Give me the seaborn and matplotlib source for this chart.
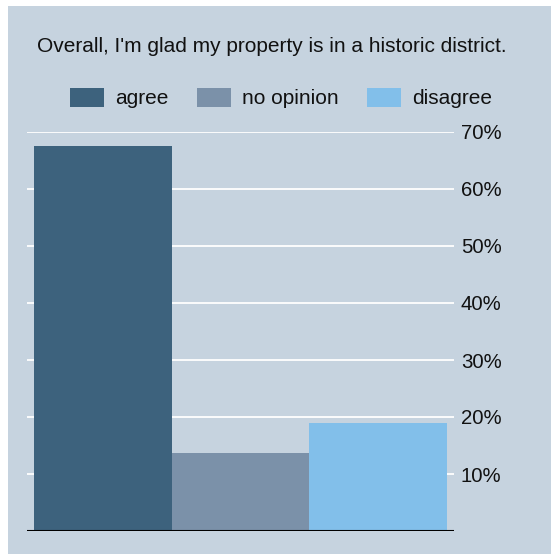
import matplotlib
matplotlib.use("Agg")
import matplotlib.pyplot as plt
from matplotlib.patches import Rectangle, Patch
import seaborn as sns
import pandas as pd

# Survey responses
categories = ["agree", "no opinion", "disagree"]
values = [67.6, 13.6, 19.0]
colors = ["#3d627d", "#7b91a9", "#82bfea"]
tick_values = [10, 20, 30, 40, 50, 60, 70]
tick_labels = ["10%", "20%", "30%", "40%", "50%", "60%", "70%"]
title = "Overall, I'm glad my property is in a historic district."

sns.set_theme(style="white")
plt.rcParams["font.family"] = ["Liberation Sans", "DejaVu Sans"]

bg = "#c6d3df"
FS = 15
W, H = 551, 554
fig = plt.figure(figsize=(W / 100, H / 100), dpi=100)
fig.patch.set_facecolor("white")
fig.patches.append(Rectangle((8 / W, 0), 1 - 8 / W, 1 - 6 / H,
                             transform=fig.transFigure, facecolor=bg,
                             edgecolor="none", zorder=-10))

ax = fig.add_axes([27 / W, (H - 531) / H, (454 - 27) / W, (531 - 132) / H])
ax.set_facecolor("none")

df = pd.DataFrame({"response": categories, "pct": values})
sns.barplot(data=df, x="response", y="pct", hue="response",
            palette=dict(zip(categories, colors)), width=1.0,
            dodge=False, legend=False, saturation=1, ax=ax, zorder=3)
for p in ax.patches:
    p.set_edgecolor("none")

ax.set_xlim(-0.55, 2.55)
ax.set_ylim(0, 70)
ax.set_xlabel("")
ax.set_ylabel("")
ax.set_xticks([])
ax.yaxis.tick_right()
ax.set_yticks(tick_values)
ax.set_yticklabels(tick_labels)
ax.tick_params(axis="y", length=0, pad=5, labelsize=14.7, labelcolor="#111111")
for y in tick_values:
    ax.axhline(y, color="white", lw=1.3, zorder=1)
ax.axhline(0, color="black", lw=1.5, zorder=4)
for s in ax.spines.values():
    s.set_visible(False)

fig.text(272 / W, 1 - 47 / H, title, ha="center", va="center",
         fontsize=FS, color="#111111")

handles = [Patch(facecolor=c, edgecolor="none", label=l)
           for c, l in zip(colors, categories)]
fig.legend(handles=handles, loc="center", bbox_to_anchor=(281 / W, 1 - 98 / H),
           ncol=3, frameon=False, fontsize=FS, handlelength=1.6,
           handleheight=1.05, handletextpad=0.53, columnspacing=1.4,
           borderpad=0, labelcolor="#111111")

fig.savefig("out.png", dpi=100)
